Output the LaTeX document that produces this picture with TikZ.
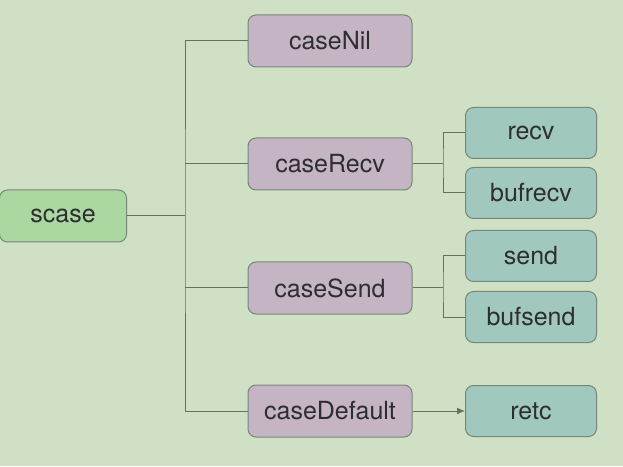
\documentclass[tikz,border=0pt]{standalone}
\usepackage{fontspec}
\setmainfont{TeX Gyre Heros}
\usetikzlibrary{%
    arrows.meta,
    positioning
}
\definecolor{bgcol}{RGB}{208,224,196}
\definecolor{rootfill}{RGB}{170,216,160}
\definecolor{casefill}{RGB}{196,180,196}
\definecolor{leaffill}{RGB}{160,200,190}
\definecolor{boxline}{RGB}{120,134,120}
\definecolor{linecol}{RGB}{100,112,100}
\definecolor{textcol}{RGB}{45,45,50}
\tikzset{
    box/.style = {draw=boxline, line width=1pt, rounded corners=8pt,
                  minimum height=52pt, inner sep=0pt, text=textcol,
                  font=\fontsize{25}{29}\selectfont},
    rootbox/.style = {box, fill=rootfill, minimum width=127pt},
    casebox/.style = {box, fill=casefill, minimum width=164pt},
    leafbox/.style = {box, fill=leaffill, minimum width=131pt, minimum height=51pt},
    branch/.style = {draw=linecol, line width=1pt},
    headarrow/.style = {branch, -{Latex[length=8pt,width=7pt]}}
}

\begin{document}
\begin{tikzpicture}[x=1pt, y=1pt]
    % background
    \fill[bgcol] (0,0) rectangle (623,466);
    \useasboundingbox (0,0) rectangle (623,466);

    % root
    \node[rootbox] (scase) at (63,250) {scase};

    % cases
    \foreach \Name/\Y in {caseNil/425, caseRecv/302, caseSend/178, caseDefault/55}
        \node[casebox] (\Name) at (330,\Y) {\Name};

    % leaves
    \foreach \Name/\Y in {recv/333, bufrecv/273, send/210, bufsend/149, retc/55}
        \node[leafbox] (\Name) at (531,\Y) {\Name};

    % forks
    \coordinate (trunk) at (185,250);
    \coordinate (recvfork) at (443,302);
    \coordinate (sendfork) at (443,178);

    % edges
    \draw[branch] (scase.east) -- (trunk);
    \draw[branch] (caseNil.west) -| (trunk) |- (caseDefault.west);
    \foreach \Case in {caseRecv, caseSend}
        \draw[branch] (\Case.west) -- (\Case.west -| trunk);

    \draw[branch] (caseRecv.east) -- (recvfork);
    \draw[branch] (recv.west) -| (recvfork) |- (bufrecv.west);
    \draw[branch] (caseSend.east) -- (sendfork);
    \draw[branch] (send.west) -| (sendfork) |- (bufsend.west);

    % default edge
    \draw[headarrow] (caseDefault) -- (retc);
\end{tikzpicture}
\end{document}
